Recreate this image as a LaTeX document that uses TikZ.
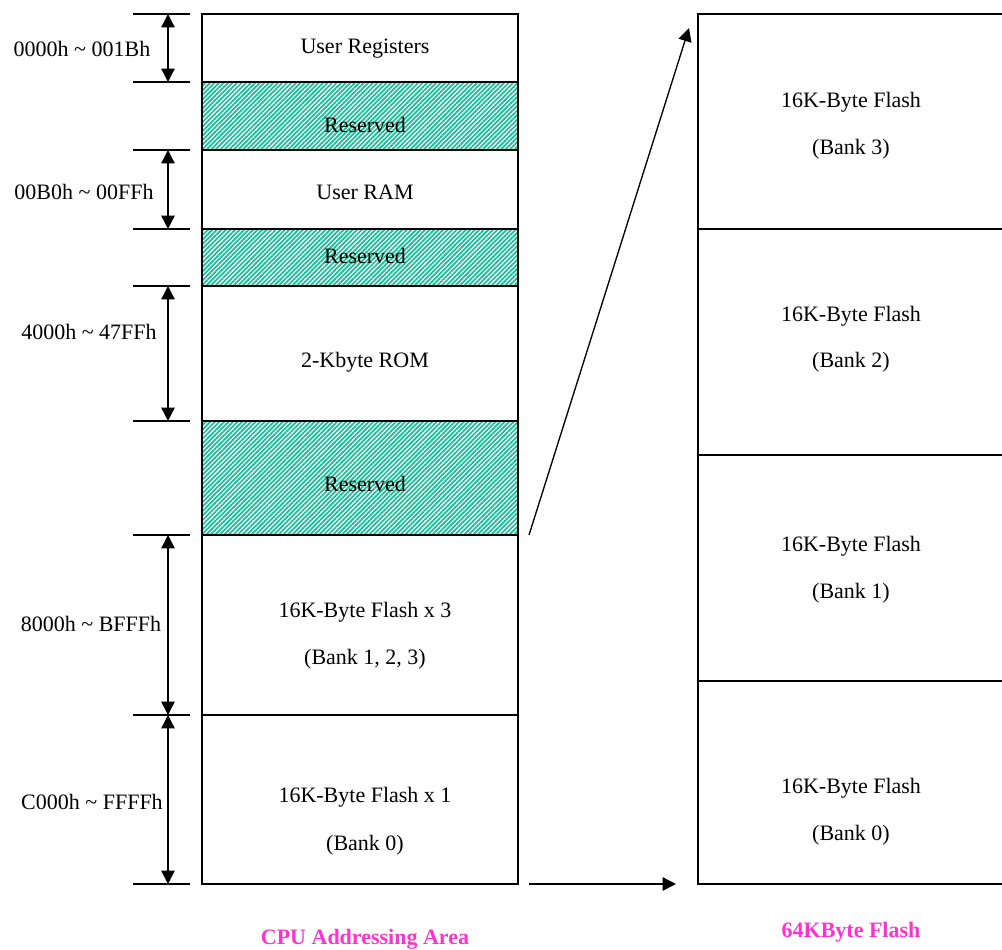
\documentclass[tikz,border=0pt]{standalone}
\usepackage{fontspec}
\setmainfont{Liberation Serif}
\usetikzlibrary{arrows.meta,patterns.meta}
\definecolor{hatchc}{RGB}{20,190,150}
\definecolor{mag}{RGB}{255,51,204}
\tikzset{
  cell/.style={draw,line width=1pt,anchor=north west,inner sep=0pt,outer sep=0pt},
  resv/.style={cell,pattern={Lines[angle=45,distance=2.4pt,line width=1.3pt]},pattern color=hatchc},
  lbl/.style={font=\fontsize{16.5}{18}\selectfont,inner sep=0pt,yshift=-1.5pt},
  title/.style={font=\fontsize{16.5}{18}\selectfont\bfseries,text=mag,inner sep=0pt},
  tick/.style={line width=1pt},
  dim/.style={line width=1pt,{Triangle[length=10pt,width=10pt]}-{Triangle[length=10pt,width=10pt]}},
  link/.style={line width=1pt,-{Triangle[length=10pt,width=10pt]}}
}
\begin{document}
\begin{tikzpicture}[x=0.75pt,y=-0.75pt]
\useasboundingbox (0,0) rectangle (1002,949);
\clip (0,0) rectangle (1002,949);
% left column
\node[cell,minimum width=237pt,minimum height=51pt] (r1) at (202,14) {};
\node[resv,minimum width=237pt,minimum height=51pt] (r2) at (202,82) {};
\node[cell,minimum width=237pt,minimum height=59.25pt] (r3) at (202,150) {};
\node[resv,minimum width=237pt,minimum height=42.75pt] (r4) at (202,229) {};
\node[cell,minimum width=237pt,minimum height=101.25pt] (r5) at (202,286) {};
\node[resv,minimum width=237pt,minimum height=85.5pt] (r6) at (202,421) {};
\node[cell,minimum width=237pt,minimum height=135pt] (r7) at (202,535) {};
\node[cell,minimum width=237pt,minimum height=126.75pt] (r8) at (202,715) {};
\node[lbl] (t1) at (365,47) {User Registers};
\node[lbl] (t2) at (365,123) {Reserved};
\node[lbl] (t3) at (365,190) {User RAM};
\node[lbl] (t4) at (365,254) {Reserved};
\node[lbl] (t5) at (365,360) {2-Kbyte ROM};
\node[lbl] (t6) at (365,482) {Reserved};
\node[lbl] (t7a) at (365,610) {16K-Byte Flash x 3};
\node[lbl] (t7b) at (365,657) {(Bank 1, 2, 3)};
\node[lbl] (t8a) at (365,795) {16K-Byte Flash x 1};
\node[lbl] (t8b) at (365,843) {(Bank 0)};
% right column
\node[cell,minimum width=240pt,minimum height=161.25pt] (b3) at (698,14) {};
\node[cell,minimum width=240pt,minimum height=169.5pt] (b2) at (698,229) {};
\node[cell,minimum width=240pt,minimum height=169.5pt] (b1) at (698,455) {};
\node[cell,minimum width=240pt,minimum height=152.25pt] (b0) at (698,681) {};
\node[lbl] (f3a) at (851,100) {16K-Byte Flash};
\node[lbl] (f3b) at (851,147) {(Bank 3)};
\node[lbl] (f2a) at (851,314) {16K-Byte Flash};
\node[lbl] (f2b) at (851,360) {(Bank 2)};
\node[lbl] (f1a) at (851,544) {16K-Byte Flash};
\node[lbl] (f1b) at (851,591) {(Bank 1)};
\node[lbl] (f0a) at (851,786) {16K-Byte Flash};
\node[lbl] (f0b) at (851,833) {(Bank 0)};
% ticks
\foreach \n/\y in {a/14,b/82,c/150,d/229,e/286,f/421,g/535,h/715,i/884}{
  \coordinate (L\n) at (133,\y);
  \coordinate (R\n) at (190,\y);
  \coordinate (M\n) at (168,\y);
  \draw[tick] (L\n) -- (R\n);
}
\draw[dim] (Ma) -- (Mb);
\draw[dim] (Mc) -- (Md);
\draw[dim] (Me) -- (Mf);
\draw[dim] (Mg) -- (Mh);
\draw[dim] (Mh) -- (Mi);
\node[lbl] (a1) at (82,47) {0000h \textasciitilde{} 001Bh};
\node[lbl] (a2) at (84,190) {00B0h \textasciitilde{} 00FFh};
\node[lbl] (a3) at (89,330) {4000h \textasciitilde{} 47FFh};
\node[lbl] (a4) at (91,622) {8000h \textasciitilde{} BFFFh};
\node[lbl] (a5) at (92,800) {C000h \textasciitilde{} FFFFh};
% connectors
\coordinate (s1) at (529,535);
\coordinate (e1) at (689,28);
\coordinate (s2) at (529,884);
\coordinate (e2) at (676,884);
\draw[link] (s1) -- (e1);
\draw[link] (s2) -- (e2);
% titles
\node[title] (cpu) at (365,939) {CPU Addressing Area};
\node[title] (fl) at (851,932) {64KByte Flash};
\end{tikzpicture}
\end{document}
